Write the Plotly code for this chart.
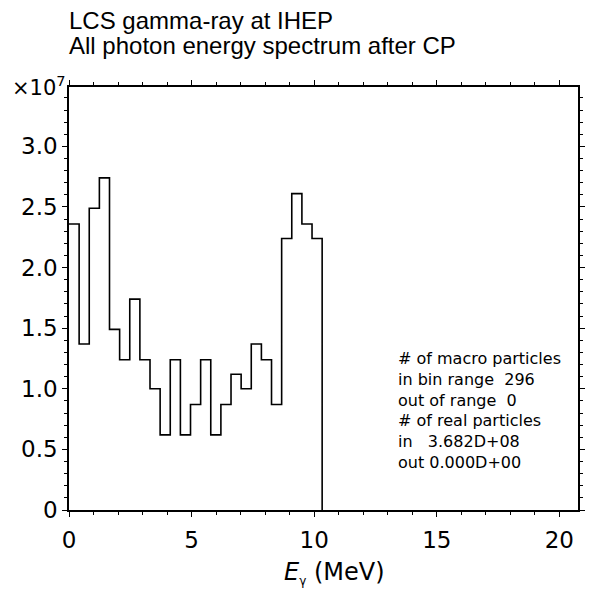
import plotly.graph_objects as go

# ---- data ----
bin_edges_mev = [0.000, 0.413, 0.826, 1.239, 1.652, 2.065, 2.478, 2.891, 3.304,
                 3.717, 4.130, 4.543, 4.956, 5.369, 5.782, 6.195, 6.608, 7.021,
                 7.434, 7.847, 8.260, 8.673, 9.086, 9.499, 9.912, 10.325]
photons_1e7 = [2.36, 1.37, 2.49, 2.74, 1.49, 1.24, 1.74, 1.24, 1.00, 0.62,
               1.24, 0.62, 0.87, 1.24, 0.62, 0.87, 1.12, 1.00, 1.37, 1.24,
               0.87, 2.24, 2.61, 2.36, 2.24]
title_lines = ["LCS gamma-ray at IHEP", "All photon energy spectrum after CP"]
stats_lines = ["# of macro particles", "in bin range  296", "out of range  0",
               "# of real particles", "in   3.682D+08", "out 0.000D+00"]
x_title = "<i>E</i><sub><span style='font-size:12px'>\u03b3</span></sub> (MeV)"
y_scale_label = "\u00d710<sup>7</sup>"

FONT = "DejaVu Sans"
TFONT = "Liberation Sans"
W, H = 594, 592
L, R, T, B = 69, 9, 87, 82
PH = H - T - B
PW = W - L - R

def px_to_py(p):
    return (H - B - p) / PH

def px_to_px(p):
    return (p - L) / PW

# step outline: horizontal then vertical, closing down to zero at the last edge
xs = list(bin_edges_mev) + [bin_edges_mev[-1]]
ys = list(photons_1e7) + [photons_1e7[-1], 0]

fig = go.Figure()
fig.add_trace(go.Scatter(x=xs, y=ys, mode="lines", line=dict(shape="hv", color="black", width=1.6),
                         hoverinfo="skip", showlegend=False))

axis_common = dict(showline=True, linecolor="black", linewidth=1.5, mirror="allticks",
                   ticks="outside", tickcolor="black", tickwidth=1, ticklen=5,
                   showgrid=False, zeroline=False,
                   tickfont=dict(family=FONT, size=23, color="black"))

fig.update_xaxes(range=[0, 20.76], tickmode="linear", tick0=0, dtick=5,
                 minor=dict(tickmode="linear", tick0=0, dtick=1, ticklen=3, ticks="outside", tickcolor="black"),
                 ticklabelstandoff=4,
                 **axis_common)
fig.update_yaxes(range=[0, 3.49], tickmode="linear", tick0=0, dtick=0.5, tickformat=".1f",
                 labelalias={"0.0": "0"},
                 minor=dict(tickmode="linear", tick0=0, dtick=0.1, ticklen=3, ticks="outside", tickcolor="black"),
                 **axis_common)

annotations = [
    dict(text=title_lines[0], x=px_to_px(67), y=px_to_py(20), xref="paper", yref="paper",
         xanchor="left", yanchor="middle", showarrow=False,
         font=dict(family=TFONT, size=24, color="black")),
    dict(text=title_lines[1], x=px_to_px(67), y=px_to_py(46), xref="paper", yref="paper",
         xanchor="left", yanchor="middle", showarrow=False,
         font=dict(family=TFONT, size=24, color="black")),
    dict(text=y_scale_label, x=px_to_px(68), y=px_to_py(86), xref="paper", yref="paper",
         xanchor="right", yanchor="middle", showarrow=False,
         font=dict(family=FONT, size=21, color="black")),
    dict(text=x_title, x=px_to_px(338), y=px_to_py(573), xref="paper", yref="paper",
         xanchor="center", yanchor="middle", showarrow=False,
         font=dict(family=FONT, size=24, color="black")),
    dict(text="<br>".join(s.replace(" ", "\u00a0") for s in stats_lines),
         x=px_to_px(400), y=px_to_py(347), xref="paper", yref="paper",
         xanchor="left", yanchor="top", align="left", showarrow=False,
         font=dict(family=FONT, size=16, color="black")),
]

fig.update_layout(width=W, height=H, margin=dict(l=L, r=R, t=T, b=B, pad=0),
                  paper_bgcolor="white", plot_bgcolor="white",
                  font=dict(family=FONT, color="black"),
                  annotations=annotations)

fig.write_html("out.html")
